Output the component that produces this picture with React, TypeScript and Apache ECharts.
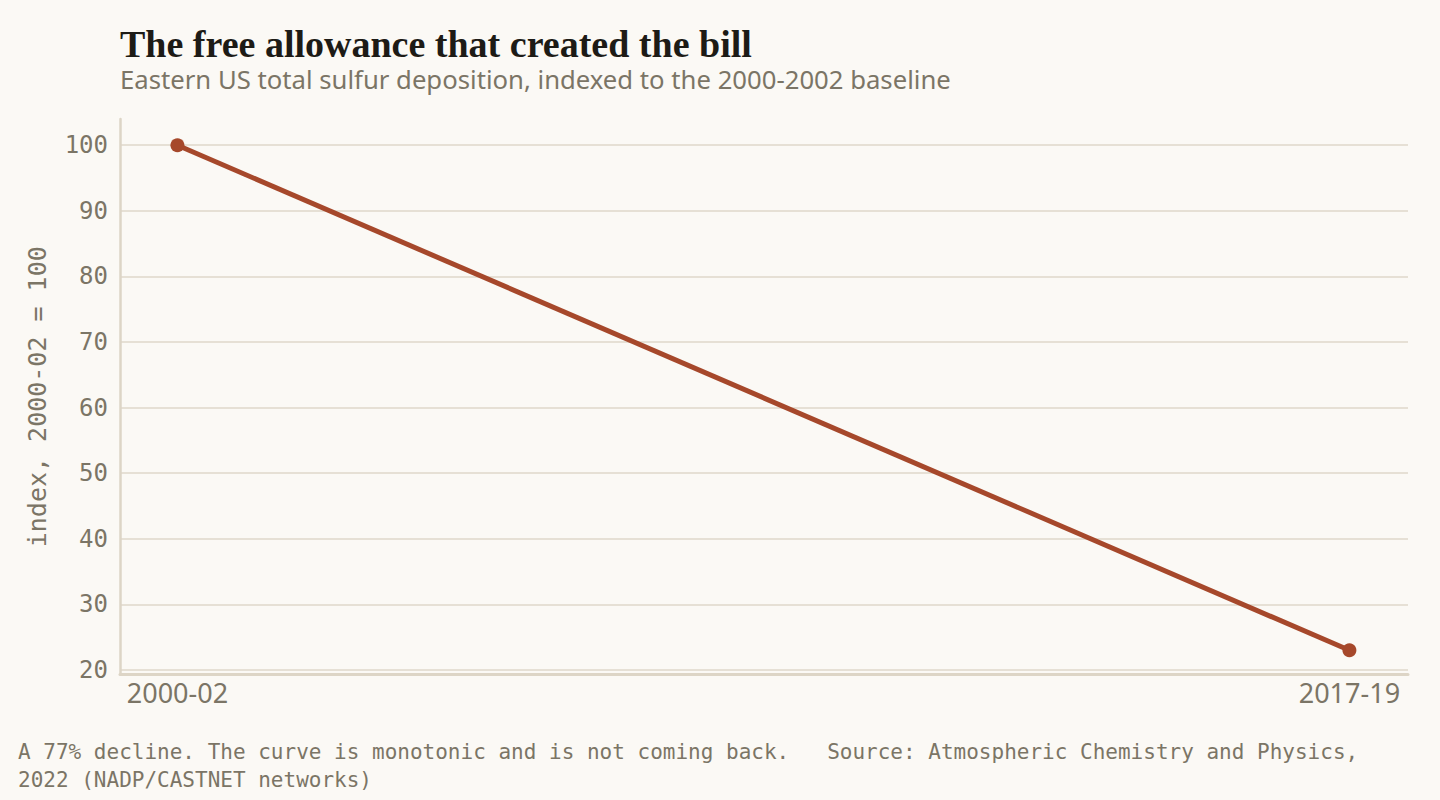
import React, { useEffect, useRef } from "react";
import * as echarts from "echarts";

const periods = ["2000-02", "2017-19"];
const indexValues = [100, 23];
const yTicks = [20, 30, 40, 50, 60, 70, 80, 90, 100];

const TITLE = "The free allowance that created the bill";
const SUBTITLE = "Eastern US total sulfur deposition, indexed to the 2000-2002 baseline";
const FOOTER_1 = "A 77% decline. The curve is monotonic and is not coming back.   Source: Atmospheric Chemistry and Physics,";
const FOOTER_2 = "2022 (NADP/CASTNET networks)";
const Y_NAME = "index, 2000-02 = 100";

const BG = "#fbf9f5";
const INK = "#1d1b16";
const MUTED = "#7b7566";
const GRID = "#e6e0d5";
const AXIS = "#ddd5c6";
const LINE = "#a6482b";
const MONO = "'DejaVu Sans Mono', 'Liberation Mono', monospace";
const SANS = "'Noto Sans', Roboto, sans-serif";
const SERIF = "'Liberation Serif', 'DejaVu Serif', serif";

export default function App() {
  const ref = useRef<HTMLDivElement>(null);
  useEffect(() => {
    if (!ref.current) return;
    const chart = echarts.init(ref.current, undefined, { renderer: "svg" });
    chart.setOption({
      animation: false,
      backgroundColor: BG,
      grid: { left: 120, right: 32, top: 119, bottom: 125.5, containLabel: false },
      xAxis: {
        type: "value",
        min: -0.049,
        max: 1.05,
        axisLine: { show: true, onZero: false, lineStyle: { color: AXIS, width: 3 } },
        axisTick: { show: false },
        splitLine: { show: false },
        axisLabel: {
          customValues: periods.map((_, i) => i),
          formatter: (v: number) => periods[Math.round(v)] ?? "",
          color: MUTED,
          fontFamily: SANS,
          fontSize: 27,
          margin: 4,
        },
      },
      yAxis: {
        type: "value",
        min: 19.31,
        max: 104,
        name: Y_NAME,
        nameLocation: "middle",
        nameGap: 70,
        nameRotate: 90,
        nameTextStyle: { color: MUTED, fontFamily: MONO, fontSize: 25 },
        axisLine: { show: true, onZero: false, lineStyle: { color: AXIS, width: 2.5 } },
        axisTick: { show: false, customValues: yTicks },
        splitLine: { show: true, lineStyle: { color: GRID, width: 2 } },
        axisLabel: {
          customValues: yTicks,
          color: MUTED,
          fontFamily: MONO,
          fontSize: 24,
          margin: 12,
        },
      },
      series: [
        {
          type: "line",
          data: periods.map((_, i) => [i, indexValues[i]]),
          lineStyle: { color: LINE, width: 5 },
          itemStyle: { color: LINE },
          symbol: "circle",
          symbolSize: 14,
          z: 5,
        },
      ],
      graphic: [
        {
          type: "text",
          left: 120,
          top: 24,
          style: { text: TITLE, fill: INK, font: `bold 38px ${SERIF}`, lineHeight: 40 },
        },
        {
          type: "text",
          left: 120,
          top: 66,
          style: { text: SUBTITLE, fill: MUTED, font: `25.7px ${SANS}`, lineHeight: 26 },
        },
        {
          type: "text",
          left: 18,
          top: 738,
          style: {
            text: FOOTER_1 + "\n" + FOOTER_2,
            fill: MUTED,
            font: `21px ${MONO}`,
            lineHeight: 28,
          },
        },
      ],
    });
    return () => chart.dispose();
  }, []);
  return (
    <div
      ref={ref}
      style={{ width: 1440, height: 800, position: "absolute", left: 0, top: 0, background: BG }}
    />
  );
}
